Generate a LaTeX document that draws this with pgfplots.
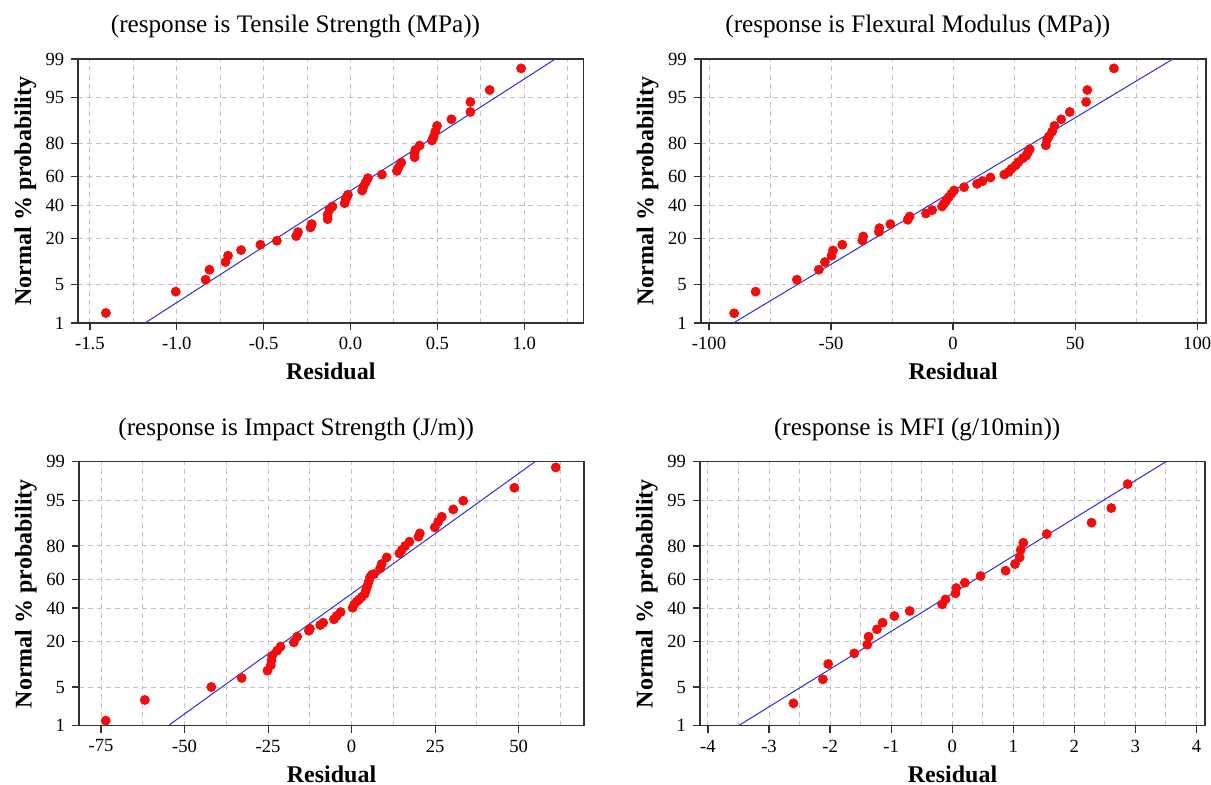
\documentclass[border=0pt]{standalone}
\usepackage{fontspec}
\setmainfont{Liberation Serif}
\usepackage{pgfplots}
\pgfplotsset{compat=1.18}
\definecolor{ptred}{RGB}{242,12,12}
\definecolor{lnblue}{RGB}{45,45,220}
\definecolor{gridgray}{RGB}{195,195,195}
\definecolor{framec}{RGB}{50,50,50}
\pgfplotsset{pp/.style={
  scale only axis, width=252.5pt, height=132pt,
  ymin=-2.3263, ymax=2.3263,
  ytick={-2.3263,-1.6449,-0.8416,-0.2533,0.2533,0.8416,1.6449,2.3263},
  yticklabels={1,5,20,40,60,80,95,99},
  tick align=outside, xtick pos=bottom, ytick pos=left,
  major tick length=3.5pt, minor tick length=0pt,
  grid=both,
  major grid style={gridgray, dash pattern=on 2.5pt off 2pt, line width=0.5pt},
  minor grid style={gridgray, dash pattern=on 2.5pt off 2pt, line width=0.5pt},
  axis line style={framec, line width=0.8pt},
  major tick style={framec, line width=0.6pt},
  ticklabel style={font=\fontsize{9.3}{11}\selectfont},
  xlabel={Residual}, ylabel={Normal \% probability},
  label style={font=\fontsize{12}{14}\selectfont\bfseries},
  xlabel style={at={(axis description cs:0.5,-0.184)}, anchor=center},
  ylabel style={at={(axis description cs:-0.105,0.5)}, anchor=center},
  title style={at={(axis description cs:0.43,1.078)}, anchor=center, font=\fontsize{12.6}{14}\selectfont},
  clip=true
},
pts/.style={only marks, mark=*, mark size=2.25pt, mark options={draw=ptred, fill=ptred}},
fit/.style={lnblue, line width=0.5pt, no marks}
}
\begin{document}
\begin{tikzpicture}
\path[use as bounding box] (0,0) rectangle (605.5pt,-392.5pt);
% Panel 1
\begin{axis}[pp, at={(39.15pt,-29.5pt)}, anchor=north west,
  title={(response is Tensile Strength (MPa))},
  xmin=-1.567, xmax=1.34,
  xtick={-1.5,-1.0,-0.5,0,0.5,1.0}, xticklabels={-1.5,-1.0,-0.5,0.0,0.5,1.0},
  minor xtick={-1.25,-0.75,-0.25,0.25,0.75,1.25}]
\addplot[fit] coordinates {(-1.183,-2.3263) (1.179,2.3263)};
\addplot[pts] table {
-1.408 -2.150
-1.006 -1.774
-0.834 -1.563
-0.812 -1.387
-0.720 -1.252
-0.705 -1.141
-0.630 -1.041
-0.519 -0.947
-0.424 -0.877
-0.313 -0.795
-0.302 -0.724
-0.230 -0.642
-0.223 -0.584
-0.132 -0.496
-0.132 -0.419
-0.121 -0.331
-0.104 -0.273
-0.034 -0.214
-0.027 -0.144
-0.020 -0.100
-0.015 -0.067
0.067 0.009
0.075 0.079
0.087 0.150
0.100 0.226
0.181 0.290
0.267 0.355
0.277 0.419
0.292 0.501
0.369 0.595
0.369 0.665
0.373 0.724
0.398 0.801
0.469 0.889
0.479 0.959
0.488 1.047
0.498 1.147
0.581 1.264
0.690 1.393
0.690 1.569
0.801 1.780
0.982 2.161
};
\end{axis}
% Panel 2
\begin{axis}[pp, at={(350.35pt,-29.5pt)}, anchor=north west,
  title={(response is Flexural Modulus (MPa))},
  xmin=-103.4, xmax=103.5,
  xtick={-100,-50,0,50,100}, xticklabels={-100,-50,0,50,100},
  minor xtick={-75,-25,25,75}]
\addplot[fit] coordinates {(-90.0,-2.3263) (90.1,2.3263)};
\addplot[pts] table {
-89.7 -2.155
-80.9 -1.774
-64.0 -1.563
-55.0 -1.387
-52.5 -1.252
-49.8 -1.141
-49.2 -1.047
-45.4 -0.947
-37.2 -0.871
-36.8 -0.801
-30.4 -0.718
-30.2 -0.654
-25.7 -0.584
-18.6 -0.507
-17.8 -0.449
-11.1 -0.396
-8.6 -0.337
-4.5 -0.273
-3.8 -0.226
-2.9 -0.179
-1.8 -0.108
-0.7 -0.050
0.4 0.009
4.5 0.067
9.8 0.126
12.0 0.173
15.3 0.238
21.0 0.290
22.8 0.337
23.9 0.390
25.6 0.449
26.7 0.507
28.6 0.578
30.0 0.625
30.6 0.677
31.4 0.736
38.0 0.806
38.5 0.900
39.2 0.959
40.6 1.047
41.5 1.147
44.3 1.264
47.8 1.393
54.5 1.569
55.0 1.780
65.9 2.161
};
\end{axis}
% Panel 3
\begin{axis}[pp, at={(39.5pt,-230.85pt)}, anchor=north west,
  title={(response is Impact Strength (J/m))},
  xmin=-81.6, xmax=69.55,
  xtick={-75,-50,-25,0,25,50}, xticklabels={-75,-50,-25,0,25,50},
  minor xtick={-62.5,-37.5,-12.5,12.5,37.5,62.5}]
\addplot[fit] coordinates {(-54.9,-2.3263) (54.9,2.3263)};
\addplot[pts] table {
-73.6 -2.237
-61.9 -1.873
-42.0 -1.644
-32.9 -1.486
-25.2 -1.356
-24.2 -1.262
-24.0 -1.180
-23.8 -1.098
-22.3 -1.004
-21.3 -0.934
-17.3 -0.857
-16.3 -0.757
-12.8 -0.652
-12.5 -0.617
-9.4 -0.552
-8.5 -0.511
-5.3 -0.452
-4.5 -0.393
-3.3 -0.323
0.3 -0.247
0.8 -0.188
1.5 -0.141
2.3 -0.100
3.1 -0.053
3.9 -0.006
4.3 0.065
4.7 0.135
5.1 0.211
5.5 0.288
6.0 0.329
6.7 0.346
8.5 0.446
9.0 0.523
10.5 0.640
14.3 0.711
15.0 0.769
16.0 0.840
17.3 0.916
20.0 1.004
20.4 1.063
24.9 1.169
25.9 1.268
27.0 1.356
30.4 1.486
33.4 1.638
48.7 1.867
61.1 2.226
};
\end{axis}
% Panel 4
\begin{axis}[pp, at={(350pt,-230.85pt)}, anchor=north west,
  title={(response is MFI (g/10min))},
  xmin=-4.13, xmax=4.14,
  xtick={-4,-3,-2,-1,0,1,2,3,4}, xticklabels={-4,-3,-2,-1,0,1,2,3,4},
  minor xtick={-3.5,-2.5,-1.5,-0.5,0.5,1.5,2.5,3.5}]
\addplot[fit] coordinates {(-3.50,-2.3263) (3.50,2.3263)};
\addplot[pts] table {
-2.600 -1.932
-2.118 -1.509
-2.031 -1.239
-1.604 -1.051
-1.391 -0.898
-1.369 -0.757
-1.232 -0.628
-1.139 -0.511
-0.947 -0.393
-0.695 -0.305
-0.165 -0.188
-0.110 -0.100
0.054 0.006
0.065 0.100
0.207 0.194
0.465 0.311
0.875 0.405
1.029 0.523
1.105 0.640
1.122 0.769
1.165 0.898
1.548 1.051
2.282 1.251
2.605 1.509
2.873 1.932
};
\end{axis}
\end{tikzpicture}
\end{document}
